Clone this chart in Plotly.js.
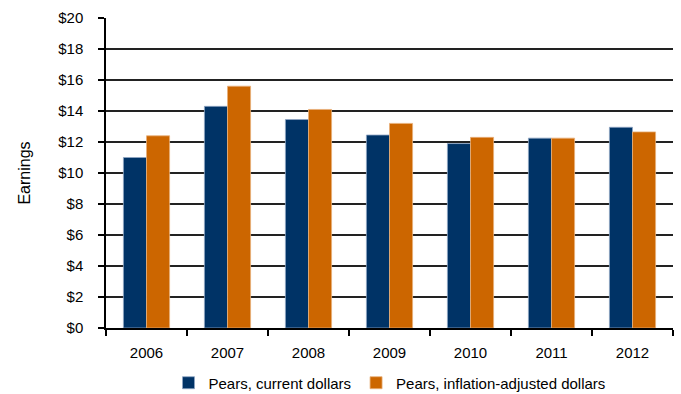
<!DOCTYPE html>
<html><head><meta charset="utf-8">
<script src="https://cdn.plot.ly/plotly-3.0.1.min.js"></script>
<style>body{margin:0;padding:0;background:#fff}#chart{width:681px;height:394px}</style>
</head><body><div id="chart"></div>
<script>
const years = ['2006','2007','2008','2009','2010','2011','2012'];
const currentDollars = [11.0, 14.3, 13.45, 12.45, 11.9, 12.25, 12.95];
const inflationAdjusted = [12.4, 15.6, 14.1, 13.2, 12.3, 12.25, 12.65];
const yTickVals = [0,2,4,6,8,10,12,14,16,18,20];
const yTickText = ['$0','$2','$4','$6','$8','$10','$12','$14','$16','$18','$20'];
const FONT = '"Liberation Sans", Arial, sans-serif';

const data = [
  {type:'bar', name:'Pears, current dollars', x:years, y:currentDollars,
   marker:{color:'#003366', line:{color:'#8fa6c4', width:0.8}}},
  {type:'bar', name:'Pears, inflation-adjusted dollars', x:years, y:inflationAdjusted,
   marker:{color:'#CC6600', line:{color:'#e8b07a', width:0.8}}}
];
const layout = {
  width:681, height:394,
  margin:{l:106, r:8, t:18, b:66},
  paper_bgcolor:'#fff', plot_bgcolor:'#fff',
  barmode:'group', bargap:0.43, bargroupgap:0,
  font:{family:FONT, size:15, color:'#000'},
  showlegend:true,
  legend:{orientation:'h', x:0.5, xanchor:'center', yref:'container', y:0.028, yanchor:'middle',
          font:{family:FONT, size:15, color:'#000'}, traceorder:'normal', tracegroupgap:0},
  xaxis:{type:'category', showgrid:false, ticks:'outside', tickson:'boundaries', ticklen:6,
         tickcolor:'#000', tickwidth:1.5, showline:true, linecolor:'#000', linewidth:1.5,
         tickfont:{family:FONT, size:15}, zeroline:false, ticklabelstandoff:10, automargin:false},
  yaxis:{range:[0,20], tickvals:yTickVals, ticktext:yTickText, showgrid:true,
         gridcolor:'#222', gridwidth:1.5, ticks:'outside', ticklen:6, tickcolor:'#000', tickwidth:1.5,
         showline:true, linecolor:'#000', linewidth:1.5, zeroline:false, ticklabelstandoff:12,
         tickfont:{family:FONT, size:15}, automargin:false,
         title:{text:'Earnings', font:{family:FONT, size:16}, standoff:24}}
};
Plotly.newPlot('chart', data, layout, {displayModeBar:false});
</script></body></html>
